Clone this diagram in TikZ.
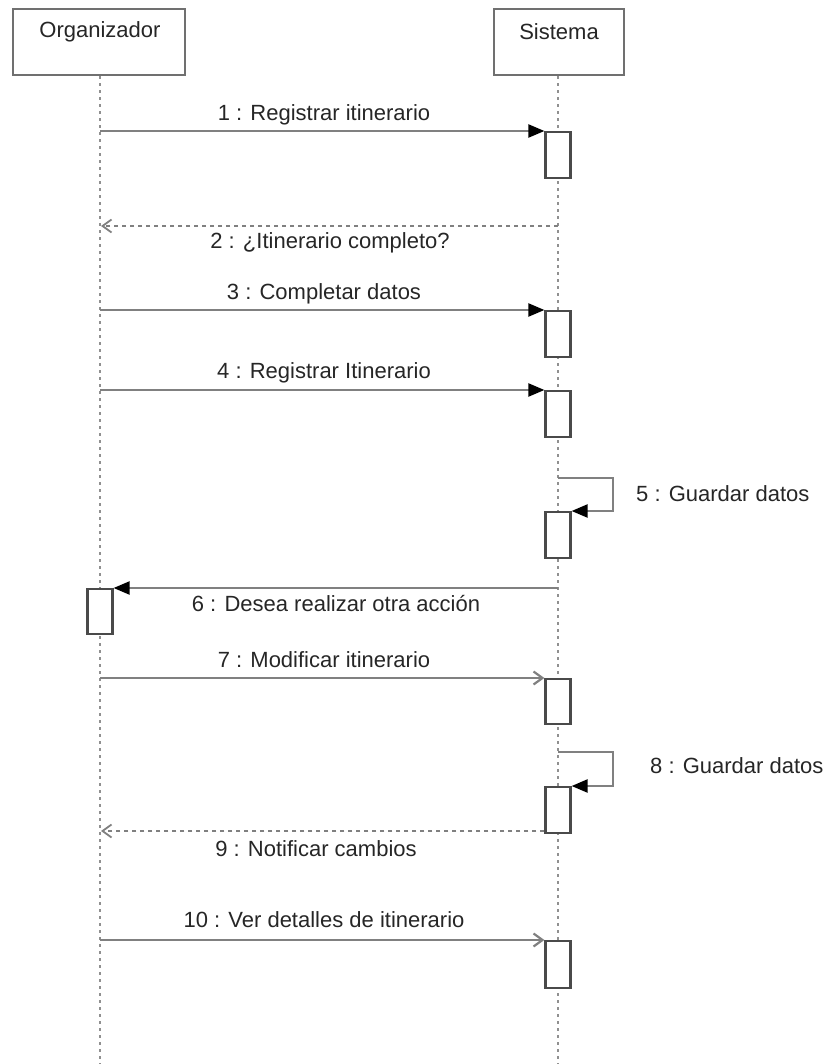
\documentclass[tikz,border=0pt]{standalone}
\usepackage{fontspec}
\setmainfont{Liberation Sans}
\usetikzlibrary{arrows.meta}
\definecolor{boxgray}{HTML}{707070}
\definecolor{linegray}{HTML}{808080}
\definecolor{actgray}{HTML}{4A4A4A}
\definecolor{lifegray}{HTML}{909090}
\begin{document}
\begin{tikzpicture}[x=1pt,y=-1pt,
  every node/.style={font=\fontsize{22}{26}\selectfont, text=black!85},
  actor/.style={draw=boxgray, line width=2.6pt, fill=white, inner sep=0pt},
  act/.style={draw=actgray, line width=2.2pt, fill=white, minimum width=25pt, minimum height=46pt, inner sep=0pt, anchor=north},
  life/.style={draw=lifegray, line width=2pt, dash pattern=on 3pt off 4pt},
  msgf/.style={draw=linegray, line width=2.2pt, -{Triangle[length=16pt,width=13pt,fill=black,color=black]}},
  msgo/.style={draw=linegray, line width=2.2pt, -{Straight Barb[length=9pt,width=13pt]}},
  ret/.style={draw=linegray, line width=1.8pt, dash pattern=on 4pt off 4pt, -{Straight Barb[length=9pt,width=13pt]}},
  lbl/.style={inner sep=0pt}
]
\useasboundingbox (0,0) rectangle (833,1064);

% actor boxes
\node[actor, minimum width=172pt, minimum height=66pt] (org) at (99,42) {};
\node[actor, minimum width=130pt, minimum height=66pt] (sis) at (559,42) {};
\node[lbl] (orgt) at (100,32) {Organizador};
\node[lbl] (sist) at (559,32) {Sistema};

% lifeline ends
\coordinate (orgend) at (100,1064);
\coordinate (sisend) at (558,1064);
\draw[life] (org.south -| orgend) -- (orgend);
\draw[life] (sis.south -| sisend) -- (sisend);

% activations
\node[act] (a1) at (558,131) {};
\node[act] (a3) at (558,310) {};
\node[act] (a4) at (558,390) {};
\node[act] (a5) at (558,511) {};
\node[act, minimum height=45pt] (a6) at (100,588) {};
\node[act, minimum height=45pt] (a7) at (558,678) {};
\node[act] (a8) at (558,786) {};
\node[act, minimum height=47pt] (a10) at (558,940) {};

% message start points on lifelines
\coordinate (s1) at (100,131);
\coordinate (s2) at (558,226);
\coordinate (e2) at (101,226);
\coordinate (s3) at (100,310);
\coordinate (s4) at (100,390);
\coordinate (s5) at (558,478);
\coordinate (s6) at (558,588);
\coordinate (s7) at (100,678);
\coordinate (s8) at (558,752);
\coordinate (e9) at (101,831);
\coordinate (s10) at (100,940);

% messages
\draw[msgf] (s1) -- (a1.north west);
\draw[ret] (s2) -- (e2);
\draw[msgf] (s3) -- (a3.north west);
\draw[msgf] (s4) -- (a4.north west);
\draw[msgf] (s5) -- ++(55,0) |- (a5.north east);
\draw[msgf] (s6) -- (a6.north east);
\draw[msgo] (s7) -- (a7.north west);
\draw[msgf] (s8) -- ++(55,0) |- (a8.north east);
\draw[ret] (a8.south west |- e9) -- (e9);
\draw[msgo] (s10) -- (a10.north west);

% labels
\node[lbl] (l1) at (324,115) {1 : Registrar itinerario};
\node[lbl] (l2) at (330,243) {2 : ¿Itinerario completo?};
\node[lbl] (l3) at (324,294) {3 : Completar datos};
\node[lbl] (l4) at (324,373) {4 : Registrar Itinerario};
\node[lbl, anchor=west] (l5) at (636,494) {5 : Guardar datos};
\node[lbl] (l6) at (336,604) {6 : Desea realizar otra acción};
\node[lbl] (l7) at (324,660) {7 : Modificar itinerario};
\node[lbl, anchor=west] (l8) at (650,766) {8 : Guardar datos};
\node[lbl] (l9) at (316,849) {9 : Notificar cambios};
\node[lbl] (l10) at (324,920) {10 : Ver detalles de itinerario};
\end{tikzpicture}
\end{document}
